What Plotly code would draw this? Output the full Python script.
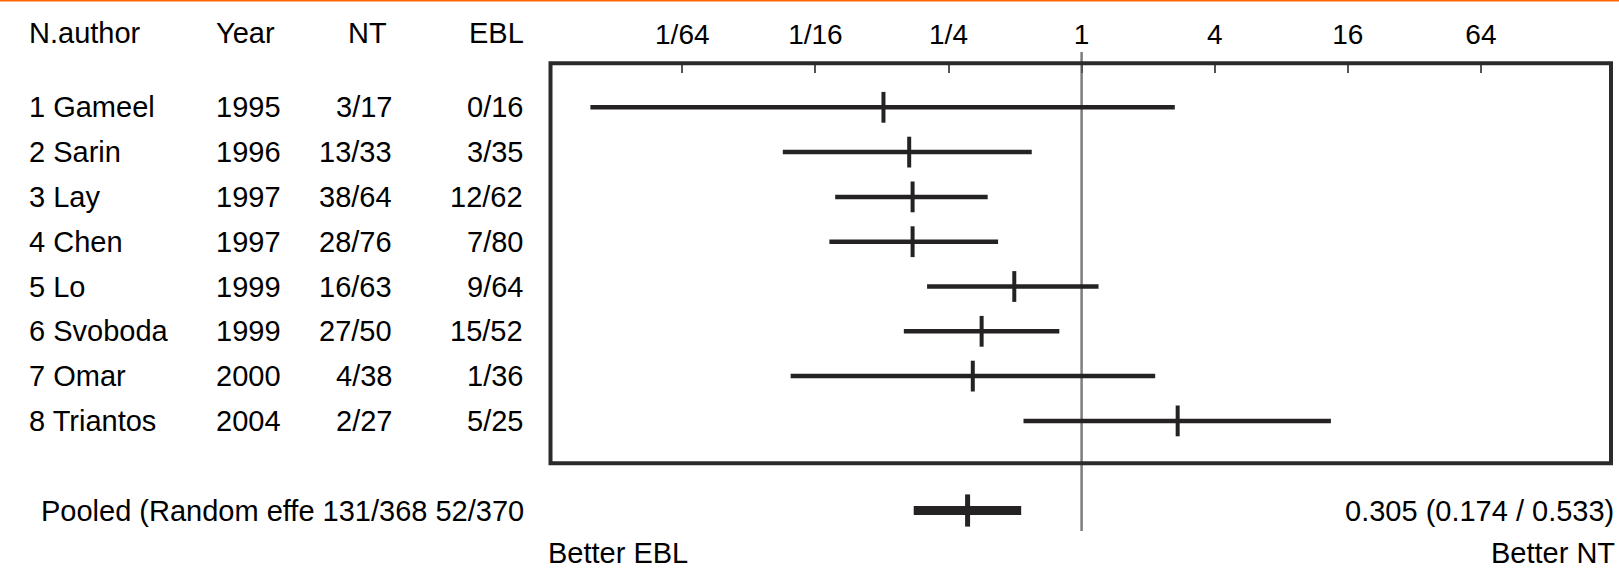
import math
import plotly.graph_objects as go

# ---------------- data ----------------
authors = ["1 Gameel", "2 Sarin", "3 Lay", "4 Chen", "5 Lo", "6 Svoboda", "7 Omar", "8 Triantos"]
years = ["1995", "1996", "1997", "1997", "1999", "1999", "2000", "2004"]
nt_events = ["3/17", "13/33", "38/64", "28/76", "16/63", "27/50", "4/38", "2/27"]
ebl_events = ["0/16", "3/35", "12/62", "7/80", "9/64", "15/52", "1/36", "5/25"]
estimate = [0.127, 0.166, 0.172, 0.172, 0.496, 0.353, 0.322, 2.72]
ci_low = [0.0060, 0.0445, 0.0768, 0.0723, 0.200, 0.157, 0.0483, 0.546]
ci_high = [2.64, 0.595, 0.376, 0.419, 1.193, 0.793, 2.152, 13.42]
pooled_label = "Pooled (Random effe 131/368 52/370"
pooled_est, pooled_low, pooled_high = 0.305, 0.174, 0.533
pooled_text = "0.305 (0.174 / 0.533)"
headers = ["N.author", "Year", "NT", "EBL"]
tick_vals = [1 / 64, 1 / 16, 1 / 4, 1, 4, 16, 64]
tick_text = ["1/64", "1/16", "1/4", "1", "4", "16", "64"]
left_note, right_note = "Better EBL", "Better NT"

# ---------------- layout helpers ----------------
W, H = 1619, 568
ROW0, ROWH = 107.3, 44.8           # pixel y of first study row, row height
X1PX, PX_PER_LOG2 = 1081.6, 66.55  # pixel x of value 1, pixels per doubling
BOX_L, BOX_R, BOX_T, BOX_B = 550.5, 1611.0, 63.3, 463.3


def row_of(py):
    return (py - ROW0) / ROWH


def log10_at(px):
    return (px - X1PX) / PX_PER_LOG2 * math.log10(2)


FONT = "Liberation Sans, Arial, Helvetica, sans-serif"
DARK = "#252223"
n = len(authors)
rows = list(range(n))
pooled_row = row_of(510.5)
header_row = row_of(33.0)
note_row = row_of(553.0)

fig = go.Figure()

# reference line at 1
fig.add_trace(go.Scatter(x=[1, 1], y=[row_of(52), row_of(531)], mode="lines",
                         line=dict(color="#7d7d7d", width=2.5), hoverinfo="skip",
                         showlegend=False, cliponaxis=False))

# study CIs
cx, cy = [], []
for i in rows:
    cx += [ci_low[i], ci_high[i], None]
    cy += [i, i, None]
fig.add_trace(go.Scatter(x=cx, y=cy, mode="lines", line=dict(color=DARK, width=4.5),
                         showlegend=False, hoverinfo="skip"))
fig.add_trace(go.Scatter(x=estimate, y=rows, mode="markers",
                         marker=dict(symbol="line-ns", size=22, line=dict(color=DARK, width=4)),
                         showlegend=False))

# pooled
fig.add_trace(go.Scatter(x=[pooled_low, pooled_high], y=[pooled_row, pooled_row], mode="lines",
                         line=dict(color=DARK, width=9), showlegend=False, hoverinfo="skip",
                         cliponaxis=False))
fig.add_trace(go.Scatter(x=[pooled_est], y=[pooled_row], mode="markers",
                         marker=dict(symbol="line-ns", size=23, line=dict(color=DARK, width=5)),
                         showlegend=False, cliponaxis=False))

# ---------------- text annotations ----------------
ann = []


def add_text(px, row, text, anchor):
    ann.append(dict(x=px / W, xref="paper", y=row, yref="y", text=text, showarrow=False,
                    xanchor=anchor, yanchor="middle",
                    font=dict(family=FONT, size=29, color="black")))


add_text(27, header_row, headers[0], "left")
add_text(214, header_row, headers[1], "left")
add_text(389, header_row, headers[2], "right")
add_text(526, header_row, headers[3], "right")
for i in rows:
    add_text(27, i, authors[i], "left")
    add_text(214, i, years[i], "left")
    add_text(394, i, nt_events[i], "right")
    add_text(525, i, ebl_events[i], "right")
add_text(39, pooled_row, pooled_label, "left")
add_text(1616, pooled_row, pooled_text, "right")
add_text(546, note_row, left_note, "left")
add_text(1617, note_row, right_note, "right")

fig.update_layout(
    width=W, height=H,
    margin=dict(l=0, r=0, t=0, b=0),
    paper_bgcolor="white", plot_bgcolor="white",
    showlegend=False,
    annotations=ann,
    xaxis=dict(type="log", domain=[BOX_L / W, BOX_R / W],
               range=[log10_at(BOX_L), log10_at(BOX_R)],
               side="top", anchor="free", position=1 - BOX_T / H,
               tickvals=tick_vals, ticktext=tick_text,
               ticks="inside", ticklen=9, tickwidth=2, tickcolor="#555555",
               ticklabelstandoff=14,
               showline=False, showgrid=False, zeroline=False,
               tickfont=dict(family=FONT, size=28, color="black")),
    yaxis=dict(domain=[0, 1], range=[row_of(H), row_of(0)], visible=False,
               showgrid=False, zeroline=False),
    shapes=[
        dict(type="rect", xref="x domain", x0=0, x1=1, yref="paper",
             y0=1 - BOX_B / H, y1=1 - BOX_T / H,
             line=dict(color="#2b2b2b", width=4), layer="above"),
        dict(type="line", xref="paper", x0=0, x1=1, yref="paper", y0=1, y1=1,
             line=dict(color="#ff6600", width=3)),
    ],
)

fig.write_html("out.html", config={"displayModeBar": False},
               post_script="document.body.style.margin='0';document.body.style.overflow='hidden';")
